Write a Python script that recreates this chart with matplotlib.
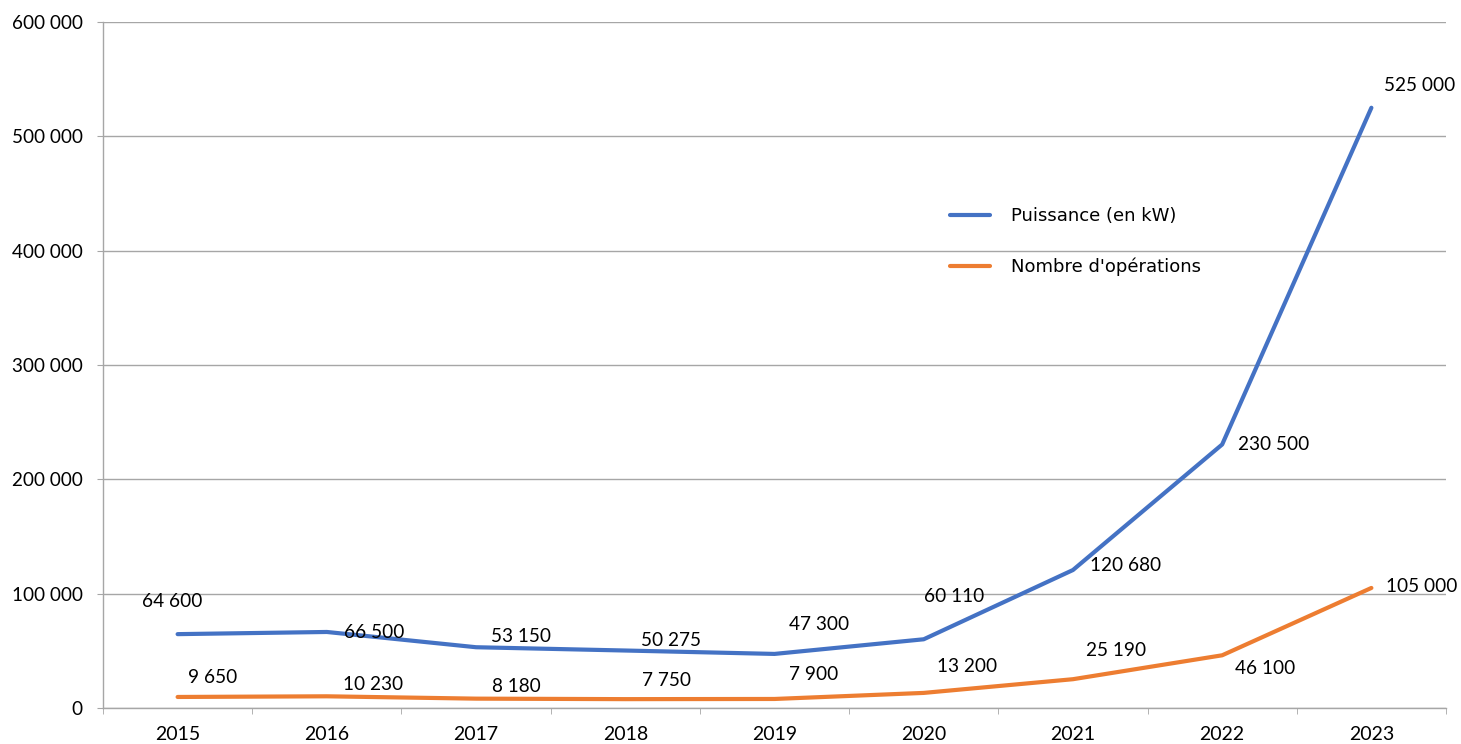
import numpy as np
import matplotlib
matplotlib.use('Agg')
import matplotlib.pyplot as plt
from matplotlib.ticker import FuncFormatter, FixedLocator

# --- données ---
annees = ['2015', '2016', '2017', '2018', '2019', '2020', '2021', '2022', '2023']
puissance = [64600, 66500, 53150, 50275, 47300, 60110, 120680, 230500, 525000]
operations = [9650, 10230, 8180, 7750, 7900, 13200, 25190, 46100, 105000]

# décalage des étiquettes (pixels) par rapport au point
dec_puissance = [(-5, 33), (47, -1), (45, 11), (46, 10), (45, 29), (30, 43), (53, 5), (51, 0), (48, 22)]
dec_operations = [(35, 19), (46, 12), (40, 12), (41, 19), (39, 24), (43, 26), (43, 29), (43, -13), (50, 1)]

BLEU = '#4472C4'
ORANGE = '#ED7D31'
GRIS = '#A6A6A6'

plt.rcParams['font.family'] = ['Lato', 'DejaVu Sans']

def fmt_milliers(v, pos=None):
    return f'{int(v):,}'.replace(',', ' ')

fig = plt.figure(figsize=(14.61, 7.44), dpi=100)
ax = fig.add_axes([103 / 1461, 1 - 708 / 744, (1446 - 103) / 1461, (708 - 22) / 744])

x = np.arange(len(annees))
ax.plot(x, puissance, color=BLEU, lw=3.0, solid_capstyle='round', solid_joinstyle='round',
        label='Puissance (en kW)', zorder=3)
ax.plot(x, operations, color=ORANGE, lw=3.0, solid_capstyle='round', solid_joinstyle='round',
        label="Nombre d'opérations", zorder=3)

for xi, v, d in zip(x, puissance, dec_puissance):
    ax.annotate(fmt_milliers(v), (xi, v), xytext=d, textcoords='offset pixels',
                ha='center', va='center', fontsize=13.7, color='black', zorder=4)
for xi, v, d in zip(x, operations, dec_operations):
    ax.annotate(fmt_milliers(v), (xi, v), xytext=d, textcoords='offset pixels',
                ha='center', va='center', fontsize=13.7, color='black', zorder=4)

ax.set_xlim(-0.5, len(annees) - 0.5)
ax.set_ylim(0, 600000)
ax.set_yticks(np.arange(0, 600001, 100000))
ax.yaxis.set_major_formatter(FuncFormatter(fmt_milliers))
ax.set_xticks(x)
ax.set_xticklabels(annees)
ax.xaxis.set_minor_locator(FixedLocator(np.arange(-0.5, len(annees), 1.0)))

ax.grid(axis='y', color=GRIS, lw=1.0)
ax.set_axisbelow(True)
for s in ['top', 'right']:
    ax.spines[s].set_visible(False)
for s in ['left', 'bottom']:
    ax.spines[s].set_color(GRIS)
    ax.spines[s].set_linewidth(1.0)

ax.tick_params(axis='y', length=4.5, color=GRIS, pad=10, labelsize=13.6)
ax.tick_params(axis='x', which='major', length=0, pad=13, labelsize=14)
ax.tick_params(axis='x', which='minor', length=4.5, color=GRIS)

leg = ax.legend(loc='upper left', bbox_to_anchor=(934 / 1461, 1 - 191 / 744),
                bbox_transform=fig.transFigure, frameon=False,
                prop={'family': 'DejaVu Sans', 'size': 13},
                handlelength=2.2, handletextpad=1.15, labelspacing=1.8)
for h in leg.get_lines():
    h.set_linewidth(3.0)

fig.savefig('out.png', dpi=100)
